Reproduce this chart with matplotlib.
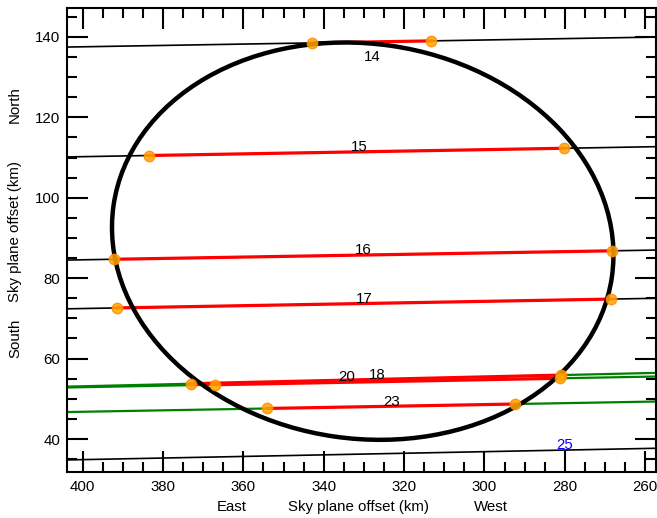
import matplotlib.pyplot as plt
from matplotlib.patches import Ellipse

plt.rcParams['font.family'] = ['Liberation Sans', 'DejaVu Sans']

# chord ids, with disappearance / reappearance points (km on the sky plane)
chord_ids = ['14', '15', '16', '17', '20', '18', '23']
x_in = [342.8, 383.5, 392.2, 391.4, 373.1, 367.1, 354.0]
y_in = [138.5, 110.5, 84.7, 72.6, 53.75, 53.5, 47.6]
x_out = [313.3, 280.1, 268.3, 268.4, 280.9, 281.2, 292.4]
y_out = [139.0, 112.3, 86.8, 74.8, 55.9, 55.1, 48.7]
outside_color = ['black', 'black', 'black', 'black', 'green', 'green', 'green']

# negative chord (no event)
neg_id = '25'
neg_x = [403.9, 257.3]
neg_y = [34.8, 37.7]

# chord number positions
label_x = [328.0, 331.2, 330.1, 329.9, 334.3, 326.8, 323.1, 280.1]
label_y = [135.0, 112.7, 87.0, 74.8, 55.3, 55.9, 49.3, 38.5]

# fitted limb: centre, semi-axes, tilt (deg)
limb_x, limb_y = 330.3, 89.2
limb_a, limb_b = 62.65, 49.09
limb_angle = 8.15

xlim = (403.9, 257.3)
ylim = (31.8, 147.3)
fs = 10.8

fig = plt.figure(figsize=(6.57, 5.18), dpi=100)
ax = fig.add_axes([0.102, 0.0888, 0.8965, 0.8967])

for i in range(len(chord_ids)):
    slope = (y_out[i] - y_in[i]) / (x_out[i] - x_in[i])
    y_left = y_in[i] + slope * (xlim[0] - x_in[i])
    y_right = y_out[i] + slope * (xlim[1] - x_out[i])
    if outside_color[i] == 'black':
        ax.plot([xlim[0], xlim[1]], [y_left, y_right], color='black', lw=1.2, zorder=1)
    else:
        ax.plot([xlim[0], x_in[i]], [y_left, y_in[i]], color='green', lw=1.6, zorder=1)
        ax.plot([x_out[i], xlim[1]], [y_out[i], y_right], color='green', lw=1.6, zorder=1)
    ax.plot([x_in[i], x_out[i]], [y_in[i], y_out[i]], color='red', lw=2.3, zorder=2)

ax.plot(neg_x, neg_y, color='black', lw=1.2, zorder=1)

limb = Ellipse((limb_x, limb_y), 2 * limb_a, 2 * limb_b, angle=limb_angle,
               fill=False, edgecolor='black', lw=3.2, zorder=3)
ax.add_patch(limb)

ax.plot(x_in + x_out, y_in + y_out, 'o', ms=7.5, mfc='orange', mec='darkorange',
        mew=1, alpha=0.85, zorder=4)

for i, cid in enumerate(chord_ids + [neg_id]):
    col = 'blue' if cid == neg_id else 'black'
    ax.text(label_x[i], label_y[i], cid, color=col, fontsize=fs,
            ha='center', va='center', zorder=5)

ax.set_xlim(*xlim)
ax.set_ylim(*ylim)
ax.set_xticks(range(400, 259, -20))
ax.set_xticks(range(400, 259, -5), minor=True)
ax.set_yticks(range(40, 141, 20))
ax.set_yticks(range(35, 146, 5), minor=True)
ax.tick_params(which='both', direction='in', top=True, right=True, width=1.5,
               labelsize=fs)
ax.tick_params(which='major', length=15)
ax.tick_params(which='minor', length=7.5)
ax.tick_params(axis='x', pad=6)
ax.tick_params(axis='y', pad=5)
for sp in ax.spines.values():
    sp.set_linewidth(1.5)

fig.text(15 / 657, 1 - 105 / 518, 'North', rotation=90, ha='center', va='center', fontsize=fs)
fig.text(15 / 657, 1 - 232 / 518, 'Sky plane offset (km)', rotation=90, ha='center', va='center', fontsize=fs)
fig.text(15 / 657, 1 - 338 / 518, 'South', rotation=90, ha='center', va='center', fontsize=fs)
fig.text(232 / 657, 1 - 507 / 518, 'East', ha='center', va='center', fontsize=fs)
fig.text(359 / 657, 1 - 507 / 518, 'Sky plane offset (km)', ha='center', va='center', fontsize=fs)
fig.text(491 / 657, 1 - 507 / 518, 'West', ha='center', va='center', fontsize=fs)

fig.savefig('out.png', dpi=100)
